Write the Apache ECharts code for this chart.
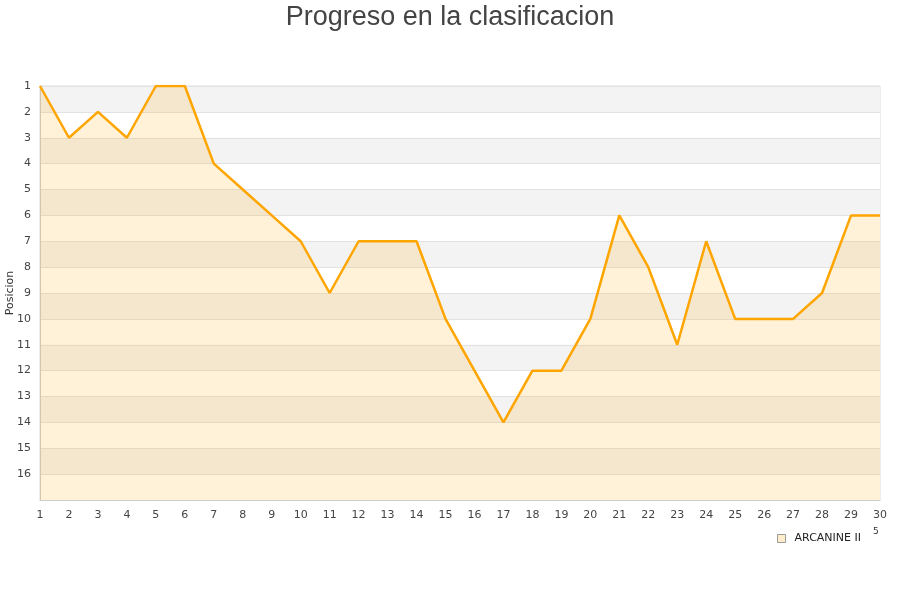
<!DOCTYPE html>
<html><head><meta charset="utf-8">
<script src="https://cdn.jsdelivr.net/npm/echarts@6/dist/echarts.min.js"></script>
<style>html,body{margin:0;padding:0;background:#fff}#c{width:900px;height:600px}</style>
</head><body><div id="c"></div>
<script>
const jornadas = ['1','2','3','4','5','6','7','8','9','10','11','12','13','14','15','16','17','18','19','20','21','22','23','24','25','26','27','28','29','30'];
const posiciones = [1,3,2,3,1,1,4,5,6,7,9,7,7,7,10,12,14,12,12,10,6,8,11,7,10,10,10,9,6,6];
const equipo = 'ARCANINE II';
const titulo = 'Progreso en la clasificacion';
const ejeY = 'Posicion';

const chart = echarts.init(document.getElementById('c'), null, {renderer:'canvas'});
chart.setOption({
  animation:false,
  title:{text:titulo,left:'center',top:-1,textStyle:{fontFamily:'Liberation Sans',fontSize:27,fontWeight:'normal',color:'#444'}},
  grid:{left:40,right:20,top:86,bottom:100,containLabel:false,outerBoundsMode:'none',show:true,borderColor:'#ddd',borderWidth:1,backgroundColor:'transparent'},
  legend:{data:[{name:equipo,icon:'rect',itemStyle:{color:'rgba(255,165,0,0.2)',borderColor:'#999',borderWidth:1}}],
    right:34,top:528,itemWidth:8,itemHeight:8,itemGap:9,
    textStyle:{fontFamily:'DejaVu Sans',fontSize:11,color:'#222',padding:[0,0,0,4]}},
  xAxis:{type:'category',data:jornadas,boundaryGap:false,
    axisLine:{lineStyle:{color:'#ccc'}},axisTick:{show:false},
    axisLabel:{fontFamily:'DejaVu Sans',fontSize:11,color:'#444',margin:10},
    splitLine:{show:false}},
  yAxis:{type:'value',inverse:true,min:1,max:17,interval:1,
    name:ejeY,nameLocation:'middle',nameGap:24,nameRotate:90,nameMoveOverlap:false,
    nameTextStyle:{fontFamily:'DejaVu Sans',fontSize:11,color:'#333'},
    axisLine:{show:true,lineStyle:{color:'#ccc'}},axisTick:{show:false},
    axisLabel:{fontFamily:'DejaVu Sans',fontSize:11,color:'#444',margin:9,
      formatter:v=> v>16?'':String(v)},
    splitLine:{show:true,lineStyle:{color:'#e2e2e2'}},
    splitArea:{show:true,areaStyle:{color:['#f3f3f3','#ffffff']}}},
  series:[{name:equipo,type:'line',data:posiciones,symbol:'none',
    lineStyle:{color:'#ffa500',width:2.5},itemStyle:{color:'#ffa500'},
    areaStyle:{color:'rgba(255,165,0,0.21)',origin:'end'}}],
  graphic:[{type:'text',left:873,top:527,style:{text:'5',fontFamily:'DejaVu Sans',fontSize:9,fill:'#333'}}]
});
</script></body></html>
